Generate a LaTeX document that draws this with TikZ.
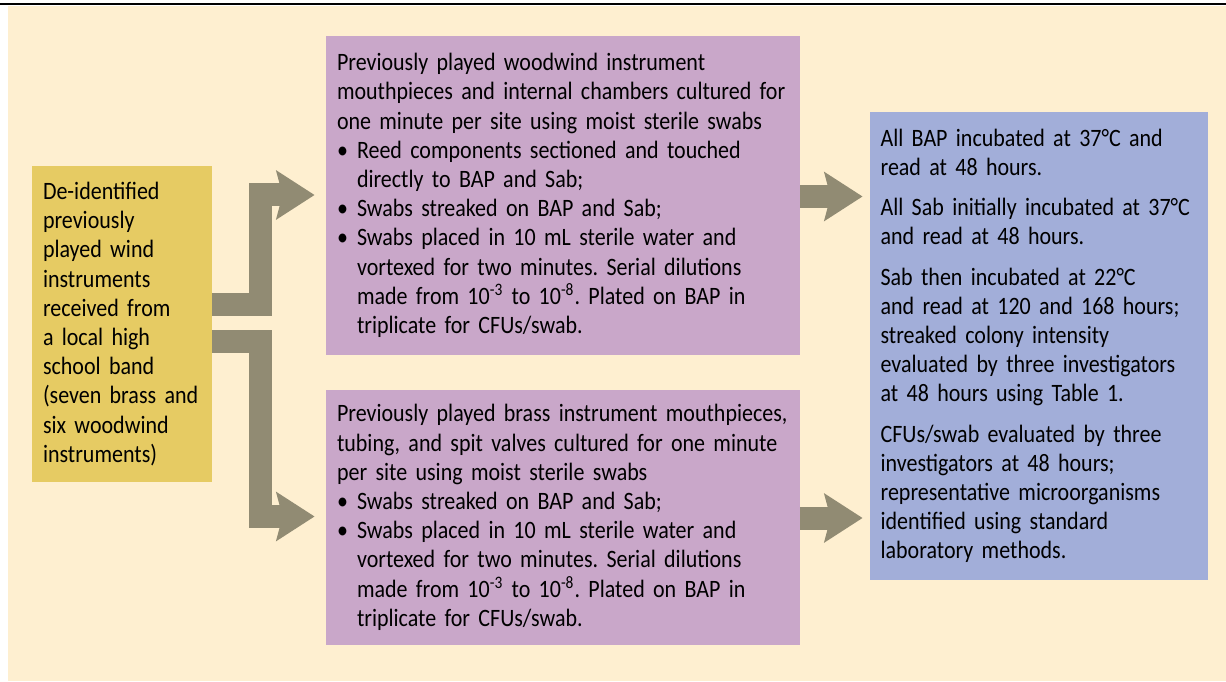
\documentclass[tikz,border=0pt]{standalone}
\usepackage{fontspec}
\setmainfont{Carlito}[FakeStretch=0.88]
\usetikzlibrary{arrows.meta,positioning}
\definecolor{bandCream}{HTML}{FEEFD0}
\definecolor{bandGold}{HTML}{E6CB63}
\definecolor{bandMauve}{HTML}{C9A7C9}
\definecolor{bandBlue}{HTML}{A2AED9}
\definecolor{bandOlive}{HTML}{918B73}
\newcommand{\swabbul}{\makebox[10pt][l]{\textbullet}}
\newcommand{\swabgap}{\hspace*{10pt}}
\frenchspacing

\begin{document}
\begin{tikzpicture}[x=1pt,y=1pt,
    box/.style={inner xsep=5.5pt,inner ysep=0pt,align=left,
                font=\fontsize{12.5}{14.6}\selectfont},
    flow/.style={draw=bandOlive,line width=11.5pt,
                 -{Stealth[length=19pt,width=24pt,inset=3pt]}}]
  \useasboundingbox (0,0) rectangle (613,340.5);
  \fill[bandCream] (4,0) rectangle (613,337.5);
  \draw[line width=1pt] (0,338.5) -- (613,338.5);

  % source
  \node[box,fill=bandGold,text width=79pt,minimum height=158pt] (band) at (61,178.5) {%
    De-identified\\ previously\\ played wind\\ instruments\\ received from\\
    a local high\\ school band\\ (seven brass and\\ six woodwind\\ instruments)};

  % cultures
  \node[box,fill=bandMauve,text width=226pt,minimum height=159.5pt] (woodwind) at (281.5,242.75) {%
    Previously played woodwind instrument\\
    mouthpieces and internal chambers cultured for\\
    one minute per site using moist sterile swabs\\
    \swabbul Reed components sectioned and touched\\
    \swabgap directly to BAP and Sab;\\
    \swabbul Swabs streaked on BAP and Sab;\\
    \swabbul Swabs placed in 10 mL sterile water and\\
    \swabgap vortexed for two minutes. Serial dilutions\\
    \swabgap made from 10\textsuperscript{-3} to 10\textsuperscript{-8}. Plated on BAP in\\
    \swabgap triplicate for CFUs/swab.};
  \node[box,fill=bandMauve,text width=226pt,minimum height=127.5pt] (brass) at (281.5,81.75) {%
    Previously played brass instrument mouthpieces,\\
    tubing, and spit valves cultured for one minute\\
    per site using moist sterile swabs\\
    \swabbul Swabs streaked on BAP and Sab;\\
    \swabbul Swabs placed in 10 mL sterile water and\\
    \swabgap vortexed for two minutes. Serial dilutions\\
    \swabgap made from 10\textsuperscript{-3} to 10\textsuperscript{-8}. Plated on BAP in\\
    \swabgap triplicate for CFUs/swab.};

  % reading
  \node[box,fill=bandBlue,inner xsep=5.3pt,text width=158.4pt,minimum height=234pt] (readout) at (519.5,167.5) {%
    All BAP incubated at 37°C and\\ read at 48 hours.\\[5.5pt]
    All Sab initially incubated at 37°C\\ and read at 48 hours.\\[5.5pt]
    Sab then incubated at 22°C\\ and read at 120 and 168 hours;\\
    streaked colony intensity\\ evaluated by three investigators\\
    at 48 hours using Table 1.\\[5.5pt]
    CFUs/swab evaluated by three\\ investigators at 48 hours;\\
    representative microorganisms\\ identified using standard\\
    laboratory methods.};

  \draw[flow,shorten >=5.5pt] (band.east |- 0,188.25) -| (130,243) -- (woodwind.west |- 0,243);
  \draw[flow,shorten >=5.5pt] (band.east |- 0,169.75) -| (130,82.25) -- (brass.west |- 0,82.25);
  \draw[flow,shorten >=3.5pt] (woodwind.east |- 0,242.25) -- (readout.west |- 0,242.25);
  \draw[flow,shorten >=3.5pt] (brass.east |- 0,81.5) -- (readout.west |- 0,81.5);
\end{tikzpicture}
\end{document}
